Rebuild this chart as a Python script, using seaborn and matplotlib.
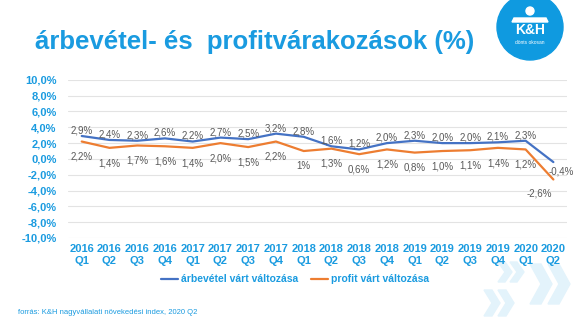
import matplotlib
matplotlib.use("Agg")
import matplotlib.pyplot as plt
import seaborn as sns
import pandas as pd
from matplotlib.patches import Circle, Polygon

years = ["2016", "2016", "2016", "2016", "2017", "2017", "2017", "2017", "2018",
         "2018", "2018", "2018", "2019", "2019", "2019", "2019", "2020", "2020"]
quarters = ["Q1", "Q2", "Q3", "Q4", "Q1", "Q2", "Q3", "Q4", "Q1",
            "Q2", "Q3", "Q4", "Q1", "Q2", "Q3", "Q4", "Q1", "Q2"]
revenue = [2.9, 2.4, 2.3, 2.6, 2.2, 2.7, 2.5, 3.2, 2.8, 1.6, 1.2, 2.0, 2.3, 2.0, 2.0, 2.1, 2.3, -0.4]
profit = [2.2, 1.4, 1.7, 1.6, 1.4, 2.0, 1.5, 2.2, 1.0, 1.3, 0.6, 1.2, 0.8, 1.0, 1.1, 1.4, 1.2, -2.6]
revenue_labels = ["2,9%", "2,4%", "2,3%", "2,6%", "2,2%", "2,7%", "2,5%", "3,2%", "2,8%",
                  "1,6%", "1,2%", "2,0%", "2,3%", "2,0%", "2,0%", "2,1%", "2,3%", "-0,4%"]
profit_labels = ["2,2%", "1,4%", "1,7%", "1,6%", "1,4%", "2,0%", "1,5%", "2,2%", "1%",
                 "1,3%", "0,6%", "1,2%", "0,8%", "1,0%", "1,1%", "1,4%", "1,2%", "-2,6%"]
series_names = ["árbevétel várt változása", "profit várt változása"]
yticks = [10, 8, 6, 4, 2, 0, -2, -4, -6, -8, -10]

title = "árbevétel- és  profitvárakozások (%)"
source = "forrás: K&H nagyvállalati növekedési index, 2020 Q2"

BLUE_TXT = "#1a9be0"
LINE_BLUE = "#4472C4"
LINE_ORANGE = "#ED7D31"
LABEL_GRAY = "#595959"

sns.set_theme(style="white")
plt.rcParams["font.family"] = ["Liberation Sans", "DejaVu Sans"]

n = len(revenue)
cats = [f"{y}\n{q}" for y, q in zip(years, quarters)]
df = pd.DataFrame({
    "x": list(range(n)) * 2,
    "value": revenue + profit,
    "series": [series_names[0]] * n + [series_names[1]] * n,
})

fig = plt.figure(figsize=(5.8, 3.26), dpi=100)
ax = fig.add_axes([0.117, 0.27, 0.861, 0.485])

sns.lineplot(data=df, x="x", y="value", hue="series", hue_order=series_names,
             palette=[LINE_BLUE, LINE_ORANGE], linewidth=1.6, ax=ax, legend=True)

ax.set_xlim(-0.5, n - 0.5)
ax.set_ylim(-10, 10)
ax.set_yticks(yticks)
ax.set_yticklabels([f"{v:.1f}%".replace(".", ",") for v in yticks],
                   color=BLUE_TXT, fontweight="bold", fontsize=8)
ax.set_xticks(range(n))
ax.set_xticklabels(cats, color=BLUE_TXT, fontweight="bold", fontsize=8, linespacing=1.25)
ax.tick_params(axis="both", length=0, pad=4)
ax.tick_params(axis="y", pad=8)
ax.grid(axis="y", color="#e3e3e3", linewidth=0.8)
ax.grid(axis="x", visible=False)
for s in ax.spines.values():
    s.set_visible(False)
ax.set_xlabel("")
ax.set_ylabel("")

for i in range(n):
    if i == n - 1:
        ax.annotate(revenue_labels[i], (i, revenue[i]), xytext=(6, -7), textcoords="offset points",
                    ha="center", va="center", fontsize=7, color=LABEL_GRAY)
        ax.annotate(profit_labels[i], (i, profit[i]), xytext=(-10, -10), textcoords="offset points",
                    ha="center", va="center", fontsize=7, color=LABEL_GRAY)
    else:
        ax.annotate(revenue_labels[i], (i, revenue[i]), xytext=(0, 4), textcoords="offset points",
                    ha="center", va="center", fontsize=7, color=LABEL_GRAY)
        ax.annotate(profit_labels[i], (i, profit[i]), xytext=(0, -11), textcoords="offset points",
                    ha="center", va="center", fontsize=7, color=LABEL_GRAY)

leg = ax.legend(loc="upper center", bbox_to_anchor=(0.455, -0.17), ncol=2, frameon=False,
                handlelength=1.6, columnspacing=1.2, handletextpad=0.3,
                prop={"weight": "bold", "size": 7.5})
for t in leg.get_texts():
    t.set_color(BLUE_TXT)

fig.text(35 / 580, 1 - 42 / 326, title, fontsize=18.5, fontweight="bold", color=BLUE_TXT,
         ha="left", va="center")
fig.text(18 / 580, 1 - 313 / 326, source, fontsize=5.5, color=BLUE_TXT, ha="left", va="center")

# logo
logo = fig.add_axes([0, 0, 1, 1], zorder=-1)
logo.set_xlim(0, 580)
logo.set_ylim(326, 0)
logo.axis("off")
logo.add_patch(Circle((530, 27), 33, color="#0f9ae0"))
logo.text(530, 30, "K&H", color="white", fontsize=10, fontweight="bold", ha="center", va="center")
logo.text(530, 43, "dönts okosan", color="white", fontsize=3.5, ha="center", va="center")
logo.add_patch(Circle((530, 11), 4, color="white"))
logo.add_patch(Polygon([(512, 22), (548, 22), (546, 18), (514, 18)], color="white"))

# decorative chevrons
def chevron(x, y, w, h, t, color):
    pts = [(x, y), (x + t, y), (x + w, y + h / 2), (x + t, y + h), (x, y + h), (x + w - t, y + h / 2)]
    logo.add_patch(Polygon(pts, closed=True, color=color, alpha=1))

for (cx, cy, w, h) in [(498, 262, 14, 20), (510, 262, 14, 20), (530, 264, 22, 40),
                        (548, 264, 22, 40), (484, 290, 16, 26), (498, 290, 16, 26)]:
    chevron(cx, cy, w, h, w * 0.5, "#e3f3fb")

fig.savefig("out.png", dpi=100)
